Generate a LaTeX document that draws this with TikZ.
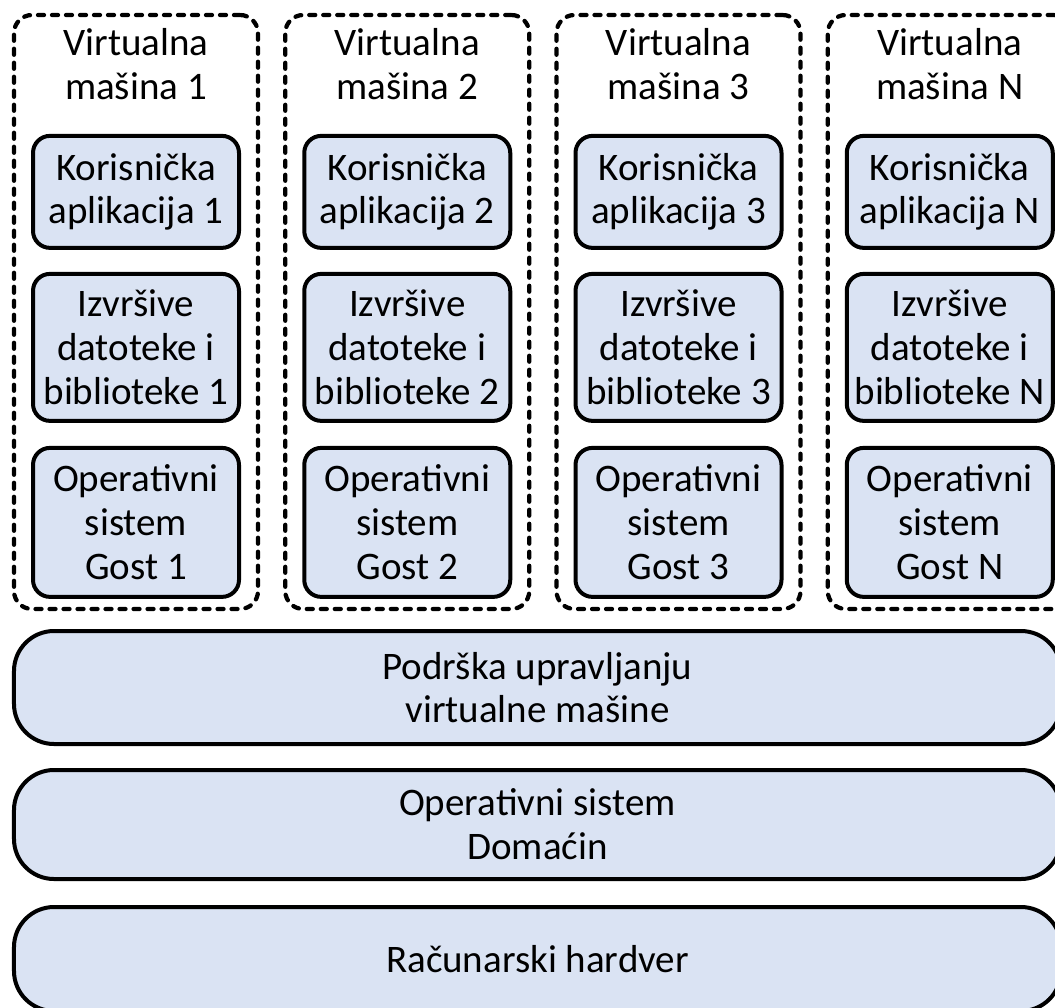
\documentclass[tikz,border=0pt]{standalone}
\usepackage{fontspec}
\setmainfont{Carlito}
\usepackage{xcolor}
\usetikzlibrary{positioning}

\definecolor{layerblue}{RGB}{218,227,243}

\tikzset{
    vmbox/.style={draw, line width=0.085cm, dash pattern=on 0.12cm off 0.16cm,
        line cap=round, rounded corners=0.36cm,
        minimum width=4.88cm, minimum height=11.88cm},
    vmtitle/.style={align=center, inner sep=0pt},
    layer/.style={draw, line width=0.08cm, fill=layerblue, rounded corners=0.34cm,
        minimum width=4.12cm, align=center, inner sep=0pt},
    baselayer/.style={draw, line width=0.08cm, fill=layerblue, rounded corners=0.8cm,
        minimum width=20.94cm, align=center, inner sep=0pt}
}

\begin{document}
\begin{tikzpicture}[node distance=0.44cm, font=\fontsize{22.2}{24.9}\selectfont]
    \useasboundingbox (0,0) rectangle (21.1,-20.14);

    % Virtual machine 1
    \node[vmbox] (vm1) at (2.72,-6.24) {};
    \node[vmtitle] (title1) at ([yshift=-1.03cm]vm1.north) {Virtualna\\mašina 1};
    \node[layer, minimum height=2.24cm] (app1) at ([yshift=-3.58cm]vm1.north) {Korisnička\\aplikacija 1};
    \node[layer, minimum height=2.94cm, below=of app1] (lib1) {Izvršive\\datoteke i\\biblioteke 1};
    \node[layer, minimum height=2.98cm, below=0.46cm of lib1] (guest1) {Operativni\\sistem\\Gost 1};

    % Virtual machine 2
    \node[vmbox, right=0.46cm of vm1] (vm2) {};
    \node[vmtitle] (title2) at ([yshift=-1.03cm]vm2.north) {Virtualna\\mašina 2};
    \node[layer, minimum height=2.24cm] (app2) at ([yshift=-3.58cm]vm2.north) {Korisnička\\aplikacija 2};
    \node[layer, minimum height=2.94cm, below=of app2] (lib2) {Izvršive\\datoteke i\\biblioteke 2};
    \node[layer, minimum height=2.98cm, below=0.46cm of lib2] (guest2) {Operativni\\sistem\\Gost 2};

    % Virtual machine 3
    \node[vmbox, right=0.46cm of vm2] (vm3) {};
    \node[vmtitle] (title3) at ([yshift=-1.03cm]vm3.north) {Virtualna\\mašina 3};
    \node[layer, minimum height=2.24cm] (app3) at ([yshift=-3.58cm]vm3.north) {Korisnička\\aplikacija 3};
    \node[layer, minimum height=2.94cm, below=of app3] (lib3) {Izvršive\\datoteke i\\biblioteke 3};
    \node[layer, minimum height=2.98cm, below=0.46cm of lib3] (guest3) {Operativni\\sistem\\Gost 3};

    % Virtual machine N
    \node[vmbox, right=0.46cm of vm3] (vmN) {};
    \node[vmtitle] (titleN) at ([yshift=-1.03cm]vmN.north) {Virtualna\\mašina N};
    \node[layer, minimum height=2.24cm] (appN) at ([yshift=-3.58cm]vmN.north) {Korisnička\\aplikacija N};
    \node[layer, minimum height=2.94cm, below=of appN] (libN) {Izvršive\\datoteke i\\biblioteke N};
    \node[layer, minimum height=2.98cm, below=0.46cm of libN] (guestN) {Operativni\\sistem\\Gost N};

    % Shared layers
    \node[baselayer, minimum height=2.26cm] (vmm) at (10.75,-13.75) {Podrška upravljanju\\virtualne mašine};
    \node[baselayer, minimum height=2.18cm, below=of vmm] (host) {Operativni sistem\\Domaćin};
    \node[baselayer, minimum height=2.08cm, below=0.48cm of host] (hw) {Računarski hardver};
\end{tikzpicture}
\end{document}
